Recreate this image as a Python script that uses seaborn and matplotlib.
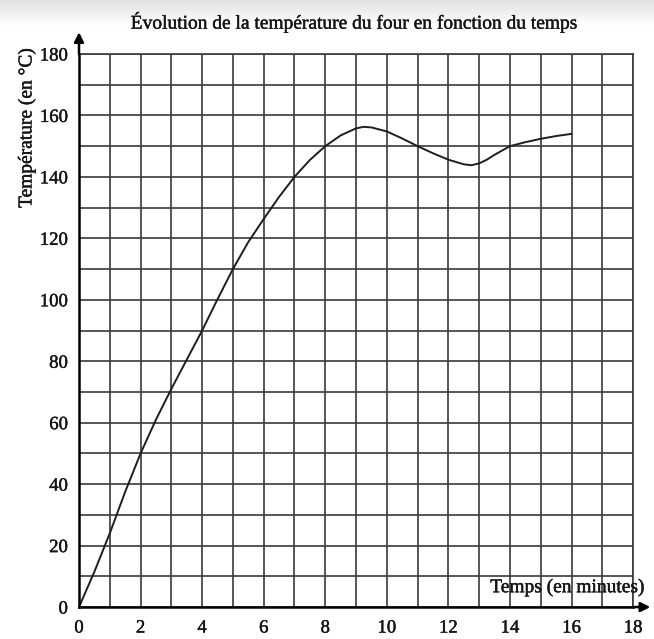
import seaborn as sns
import matplotlib.pyplot as plt
import matplotlib.patheffects as pe
import numpy as np

# temperature of the oven
temps_min = [0, 0.5, 1, 1.5, 2, 2.5, 3, 3.5, 4, 4.5, 5, 5.5, 6, 6.5, 7, 7.5, 8,
             8.5, 9, 9.25, 9.5, 10, 10.5, 11, 11.5, 12, 12.5, 12.75, 13, 13.25,
             13.5, 14, 14.5, 15, 15.5, 16]
temp_c = [0, 11.5, 24, 37.5, 50, 61, 71, 80.5, 90, 100.2, 110, 118.8, 126.3,
          133.5, 140, 145.5, 150, 153.5, 155.8, 156.3, 156.1, 154.8, 152.5, 150,
          147.7, 145.6, 144.1, 143.8, 144.4, 145.6, 147.2, 150, 151.3, 152.4,
          153.3, 154]

x_ticks = [0, 2, 4, 6, 8, 10, 12, 14, 16, 18]
y_ticks = [0, 20, 40, 60, 80, 100, 120, 140, 160, 180]

sns.set_style("white")
plt.rcParams['font.family'] = ['Liberation Serif', 'DejaVu Serif']

fig = plt.figure(figsize=(6.54, 6.39), dpi=100)

# faint grey shade along the top edge of the scan
shade = fig.add_axes([0, 0.96, 1, 0.04], zorder=-5)
shade.imshow(np.linspace(0.88, 1.0, 50).reshape(-1, 1), cmap="gray",
             vmin=0, vmax=1, aspect="auto", extent=[0, 1, 1, 0])
shade.set_axis_off()

ax = fig.add_axes([0.1208, 0.050, 0.8472, 0.8655])

grid_col = "#3a3a3a"
ax.set_xlim(0, 18)
ax.set_ylim(0, 180)
ax.set_xticks(x_ticks)
ax.set_xticks(np.arange(0, 19, 1), minor=True)
ax.set_yticks(y_ticks)
ax.set_yticks(np.arange(0, 181, 10), minor=True)
ax.grid(which="both", color=grid_col, lw=1.2)
ax.set_axisbelow(True)

sns.lineplot(x=temps_min, y=temp_c, ax=ax, color="#1e1e1e", lw=1.4)

for s in ["top", "right"]:
    ax.spines[s].set_color(grid_col)
    ax.spines[s].set_linewidth(1.2)
for s in ["left", "bottom"]:
    ax.spines[s].set_color("black")
    ax.spines[s].set_linewidth(1.8)

ax.tick_params(which="major", length=5, width=1.2, color="black",
               labelsize=13.5, pad=4, direction="out")
ax.tick_params(which="minor", length=0)
ax.tick_params(axis="y", pad=3)

thick = [pe.withStroke(linewidth=0.3, foreground="#151515")]
for lab in ax.get_xticklabels() + ax.get_yticklabels():
    lab.set_path_effects(thick)
    lab.set_color("#151515")

# arrow heads on the axes
ax.annotate("", xy=(0, 188), xytext=(0, 179), annotation_clip=False,
            arrowprops=dict(arrowstyle="-|>", color="black", lw=1.8,
                            mutation_scale=14))
ax.annotate("", xy=(18.65, 0), xytext=(17.9, 0), annotation_clip=False,
            arrowprops=dict(arrowstyle="-|>", color="black", lw=1.8,
                            mutation_scale=14))

fig.text(0.543, 0.965, "Évolution de la température du four en fonction du temps",
         ha="center", va="center", fontsize=14, color="#151515",
         path_effects=thick)
fig.text(0.041, 0.80, "Température (en °C)", rotation=90, ha="center",
         va="center", fontsize=14, color="#151515", path_effects=thick)
ax.text(18.4, 3.5, "Temps (en minutes)", ha="right", va="bottom",
        fontsize=14, color="#151515", path_effects=thick)

ax.set_xlabel("")
ax.set_ylabel("")

fig.savefig("out.png", dpi=100)
